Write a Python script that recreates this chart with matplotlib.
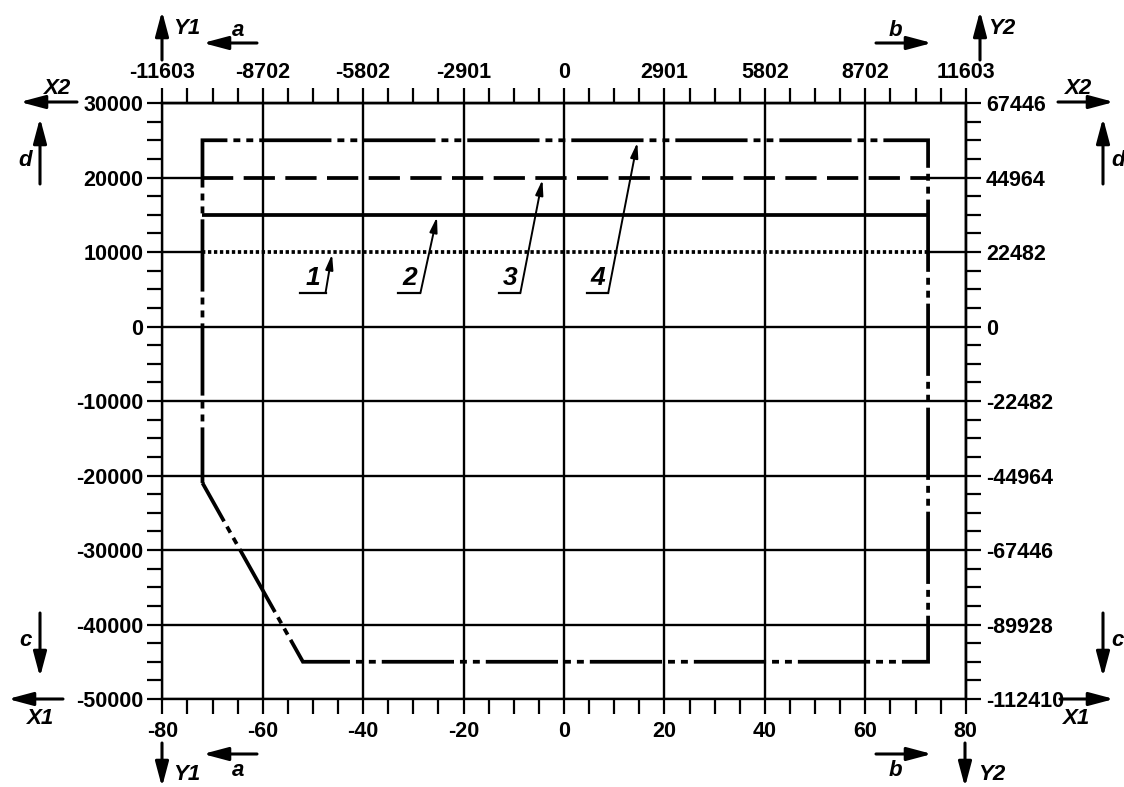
import matplotlib
matplotlib.use("Agg")
import matplotlib.pyplot as plt
from matplotlib.ticker import MultipleLocator

plt.rcParams['font.family'] = ['Liberation Sans', 'DejaVu Sans']
plt.rcParams['font.weight'] = 'bold'
plt.rcParams['lines.scale_dashes'] = False

# ---- data ----
x_ticks = [-80, -60, -40, -20, 0, 20, 40, 60, 80]
x_tick_labels = ['-80', '-60', '-40', '-20', '0', '20', '40', '60', '80']
top_tick_labels = ['-11603', '-8702', '-5802', '-2901', '0', '2901', '5802', '8702', '11603']
y_ticks = [-50000, -40000, -30000, -20000, -10000, 0, 10000, 20000, 30000]
y_tick_labels = ['-50000', '-40000', '-30000', '-20000', '-10000', '0', '10000', '20000', '30000']
right_tick_labels = ['-112410', '-89928', '-67446', '-44964', '-22482', '0', '22482', '44964', '67446']

line_x_start = -72
line_x_end = 72.5
line1_y = 10000   # dotted
line2_y = 15000   # solid
line3_y = 20000   # long dash
boundary_x = [-72, -72, 72.5, 72.5, -52, -72]
boundary_y = [-21000, 25000, 25000, -45000, -45000, -21000]

label_texts = ['1', '2', '3', '4']
label_x = [-50, -30.8, -10.8, 6.7]
label_y = [4900, 4900, 4900, 4900]
underline_x0 = [-52.5, -33, -13, 4.6]
underline_x1 = [-47.5, -28.6, -8.7, 8.8]
tip_x = [-46.2, -25.3, -4.3, 14.6]
tip_y = [9700, 14700, 19700, 24700]

# ---- figure ----
fig = plt.figure(figsize=(11.24, 7.87), dpi=100)
ax = fig.add_axes([0.1444, 0.1118, 0.7148, 0.7573])
ax.set_xlim(-80, 80)
ax.set_ylim(-50000, 30000)

for s in ax.spines.values():
    s.set_linewidth(1.7)

# vertical grid lines from the axis, horizontal ones drawn explicitly
ax.grid(True, axis='x', which='major', color='black', lw=1.7)
ax.set_axisbelow(True)
glw = 1.7
for yv in y_ticks:
    if yv in (line1_y, line3_y):
        ax.hlines(yv, -80, line_x_start, color='black', lw=glw, zorder=1)
        ax.hlines(yv, line_x_end, 80, color='black', lw=glw, zorder=1)
    else:
        ax.hlines(yv, -80, 80, color='black', lw=glw, zorder=1)

tick_kw = dict(direction='out', length=10.5, width=1.6, labelsize=15.5)
ax.set_xticks(x_ticks, x_tick_labels)
ax.set_yticks(y_ticks, y_tick_labels)
ax.xaxis.set_minor_locator(MultipleLocator(5))
ax.yaxis.set_minor_locator(MultipleLocator(2500))
ax.tick_params(axis='both', which='both', **tick_kw)
ax.tick_params(axis='x', which='major', pad=5)
ax.tick_params(axis='y', which='major', pad=3)

sx = ax.secondary_xaxis('top', functions=(lambda v: v, lambda v: v))
sx.set_xticks(x_ticks, top_tick_labels)
sx.xaxis.set_minor_locator(MultipleLocator(5))
sx.tick_params(axis='x', which='both', **tick_kw)
sx.tick_params(axis='x', which='major', pad=4)
sx.spines['top'].set_linewidth(1.7)

sy = ax.secondary_yaxis('right', functions=(lambda v: v, lambda v: v))
sy.set_yticks(y_ticks, right_tick_labels)
sy.yaxis.set_minor_locator(MultipleLocator(2500))
sy.tick_params(axis='y', which='both', **tick_kw)
sy.tick_params(axis='y', which='major', pad=4)
sy.spines['right'].set_linewidth(1.7)

lw = 2.7
ax.plot([line_x_start, line_x_end], [line1_y, line1_y], color='black', lw=lw,
        linestyle=(0, (2.4, 1.9)), dash_capstyle='butt', zorder=3)
ax.plot([line_x_start, line_x_end], [line2_y, line2_y], color='black', lw=lw,
        solid_capstyle='butt', zorder=3)
ax.plot([line_x_start, line_x_end], [line3_y, line3_y], color='black', lw=lw,
        linestyle=(0, (22.5, 7.5)), dash_capstyle='butt', zorder=3)
ax.plot(boundary_x, boundary_y, color='black', lw=lw,
        linestyle=(12, (52, 4.3, 5, 4.3, 5, 4.3)), dash_capstyle='butt',
        dash_joinstyle='miter', zorder=3)

for t, lx, ly, u0, u1, tx, ty in zip(label_texts, label_x, label_y,
                                     underline_x0, underline_x1, tip_x, tip_y):
    ax.text(lx, ly, t, fontsize=19, style='italic', weight='bold',
            ha='center', va='bottom')
    ax.plot([u0, u1], [ly - 400, ly - 400], color='black', lw=1.6)
    ax.annotate('', xy=(tx, ty), xytext=(u1, ly - 400),
                arrowprops=dict(arrowstyle='-|>,head_length=9,head_width=2.3',
                                mutation_scale=1, lw=1.4, color='black',
                                shrinkA=0, shrinkB=0))

# ---- outer direction arrows (figure pixel coords, y from bottom) ----
H = 787
def arrow(x0, y0, x1, y1):
    fig.add_artist(matplotlib.patches.FancyArrowPatch(
        (x0, H - y0), (x1, H - y1), transform=None,
        arrowstyle='-|>,head_length=15,head_width=4', mutation_scale=1,
        lw=2.2, color='black', shrinkA=0, shrinkB=0))

def label(x, y, s):
    fig.text(x / 1124, 1 - y / H, s, fontsize=16, style='italic', weight='bold',
             ha='center', va='center')

# top left
arrow(162, 60, 162, 11); label(187, 29, 'Y1')
arrow(257, 43, 203, 43); label(238, 31, 'a')
arrow(77, 102, 20, 102); label(57, 88, 'X2')
arrow(40, 184, 40, 118); label(25, 160, 'd')
# top right
arrow(876, 43, 932, 43); label(895, 30, 'b')
arrow(980, 60, 980, 11); label(1002, 28, 'Y2')
arrow(1058, 102, 1114, 102); label(1078, 88, 'X2')
arrow(1103, 184, 1103, 118); label(1118, 160, 'd')
# bottom left
arrow(40, 613, 40, 677); label(25, 640, 'c')
arrow(63, 699, 8, 699); label(40, 718, 'X1')
arrow(162, 743, 162, 787); label(187, 774, 'Y1')
arrow(257, 754, 203, 754); label(238, 771, 'a')
# bottom right
arrow(1103, 613, 1103, 677); label(1118, 640, 'c')
arrow(1060, 699, 1114, 699); label(1076, 718, 'X1')
arrow(876, 754, 932, 754); label(895, 771, 'b')
arrow(965, 743, 965, 787); label(992, 774, 'Y2')

fig.savefig('out.png', dpi=100)
